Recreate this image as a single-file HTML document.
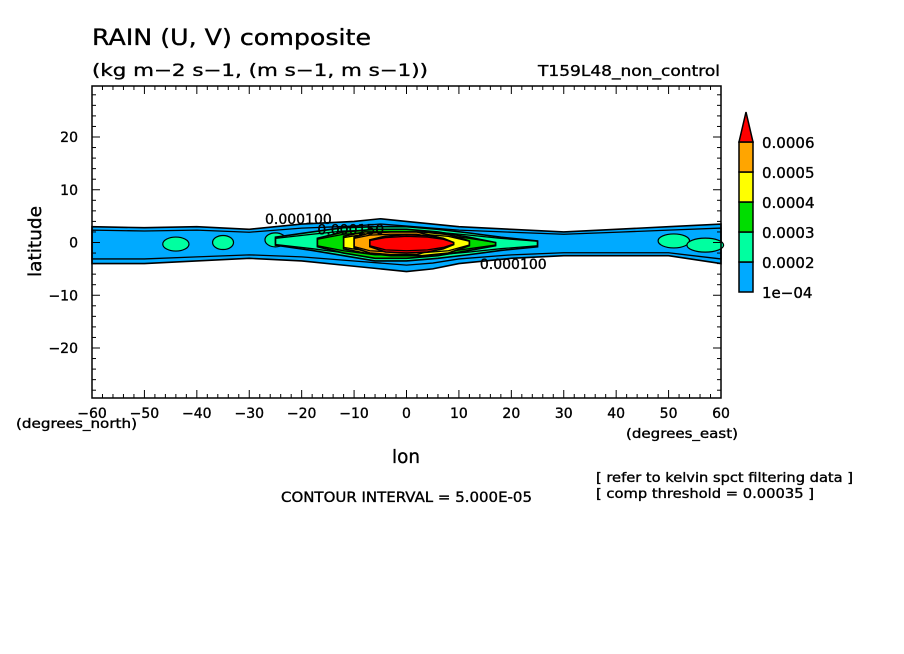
<!DOCTYPE html>
<html><head><meta charset="utf-8"><style>
body{margin:0;background:#fff}
svg{display:block;font-family:"DejaVu Sans","Liberation Sans",sans-serif}
text{stroke:#000;stroke-width:0.35}
</style></head><body>
<svg id="s" width="904" height="654" viewBox="0 0 904 654">
<text x="92" y="45" font-size="22" textLength="279" lengthAdjust="spacingAndGlyphs">RAIN (U, V) composite</text>
<text x="92" y="76" font-size="17" textLength="336" lengthAdjust="spacingAndGlyphs">(kg m−2 s−1, (m s−1, m s−1))</text>
<text x="538" y="76" font-size="15" textLength="182" lengthAdjust="spacingAndGlyphs">T159L48_non_control</text>
<g id="plot"></g>
<text x="392" y="463" font-size="19" textLength="28" lengthAdjust="spacingAndGlyphs">lon</text>
<text x="41" y="277" font-size="18" textLength="71" lengthAdjust="spacingAndGlyphs" transform="rotate(-90 41 277)">latitude</text>
<text x="16" y="428" font-size="13" textLength="121" lengthAdjust="spacingAndGlyphs">(degrees_north)</text>
<text x="626" y="438" font-size="13" textLength="112" lengthAdjust="spacingAndGlyphs">(degrees_east)</text>
<text x="281" y="502" font-size="14" textLength="251" lengthAdjust="spacingAndGlyphs">CONTOUR INTERVAL = 5.000E-05</text>
<text x="596" y="482" font-size="13" textLength="257" lengthAdjust="spacingAndGlyphs">[ refer to kelvin spct filtering data ]</text>
<text x="596" y="498" font-size="13" textLength="218" lengthAdjust="spacingAndGlyphs">[ comp threshold = 0.00035 ]</text>
<g id="cbar"></g>
</svg>
<script>
const xTicks=[-60,-50,-40,-30,-20,-10,0,10,20,30,40,50,60];
const yTicks=[20,10,0,-10,-20];
const levels=["1e-04","0.0002","0.0003","0.0004","0.0005","0.0006"];
const colors=["#00aaff","#00ffa0","#00dd00","#ffff00","#ffa500","#ff0000"];
const bLon=[-60,-50,-40,-30,-20,-10,-5,0,5,10,20,30,40,50,60];
const bN=[3,2.8,3,2.5,3.5,4,4.5,4,3.5,3,2.5,2,2.5,3,3.5];
const bS=[-4,-4,-3.5,-3,-3.5,-4.5,-5,-5.5,-5,-4,-3,-2.5,-2.5,-2.5,-4];
const tLon=[-25,-18,-12,-6,0,6,12,18,25];
const tN=[1,2,2.8,3,3,2.5,1.8,1,0.3];
const tS=[-0.5,-1.5,-2.5,-3.5,-3.5,-3,-2.3,-1.5,-0.8];
const gLon=[-17,-12,-6,0,6,12,17];
const gN=[0.8,2,2.5,2.5,2,1,0];
const gS=[-0.8,-2,-3,-3,-2.5,-1.5,-0.6];
const yLon=[-12,-8,-3,3,8,12];
const yN=[1.2,2,2,2,1.5,0.3];
const yS=[-1.2,-2,-2.5,-2.5,-2,-0.6];
const oLon=[-10,-7,-3,2,6];
const oN=[1,1.8,2,2,1];
const oS=[-1,-2,-2.3,-2.3,-1];
const rLon=[-7,-4,0,4,7,9];
const rN=[0.5,1.2,1.5,1.3,0.8,0];
const rS=[-0.8,-1.8,-2,-1.8,-1.2,-0.4];
const patchLon=[-44,-35,-25,51,57];
const patchLat=[-0.3,0,0.5,0.3,-0.5];
const patchW=[2.5,2,2,3,3.5];

const NS="http://www.w3.org/2000/svg";
const X0=92,X1=721,Y0=86,Y1=398;
const sx=v=>X0+(v+60)/120*(X1-X0);
const sy=v=>242.5-v*5.275;
const plot=document.getElementById('plot');
function mk(t,a,p){const e=document.createElementNS(NS,t);for(const k in a)e.setAttribute(k,a[k]);(p||plot).appendChild(e);return e;}
function pathOf(lon,n,s,k){
  let d='M'+lon.map((v,i)=>sx(v)+','+sy(n[i]*k)).join('L');
  for(let i=lon.length-1;i>=0;i--)d+='L'+sx(lon[i])+','+sy(s[i]*k);
  return d+'Z';
}
function band(lon,n,s,c,name){
  const e=mk('path',{d:pathOf(lon,n,s,1),fill:c,stroke:'#000','stroke-width':1.6});
  
  
  const l=mk('path',{d:pathOf(lon,n,s,0.78),fill:'none',stroke:'#000','stroke-width':1.3});
  
  
}
band(bLon,bN,bS,colors[0],'contour-1e-04');
patchLon.forEach((v,i)=>{const e=mk('ellipse',{cx:sx(v),cy:sy(patchLat[i]),rx:patchW[i]*5.24,ry:7,fill:colors[1],stroke:'#000','stroke-width':1.2});
  
  });
band(tLon,tN,tS,colors[1],'contour-0.0002');
band(gLon,gN,gS,colors[2],'contour-0.0003');
band(yLon,yN,yS,colors[3],'contour-0.0004');
band(oLon,oN,oS,colors[4],'contour-0.0005');
band(rLon,rN,rS,colors[5],'contour-0.0006');
[[-27,3.5,'0.000100'],[-17,1.5,'0.000150'],[14,-5,'0.000100']].forEach((l,i)=>{
  const e=mk('text',{x:sx(l[0]),y:sy(l[1]),'font-size':14});e.textContent=l[2];
  
  });
const fr=mk('rect',{x:X0,y:Y0,width:X1-X0,height:Y1-Y0,fill:'none',stroke:'#000','stroke-width':1.5});


for(let v=-60;v<=60;v+=2){const L=v%10===0?8:4;
  mk('line',{x1:sx(v),x2:sx(v),y1:Y1,y2:Y1-L,stroke:'#000'});
  mk('line',{x1:sx(v),x2:sx(v),y1:Y0,y2:Y0+L,stroke:'#000'});}
for(let v=-28;v<=28;v+=2){const L=v%10===0?8:4;
  mk('line',{x1:X0,x2:X0+L,y1:sy(v),y2:sy(v),stroke:'#000'});
  mk('line',{x1:X1,x2:X1-L,y1:sy(v),y2:sy(v),stroke:'#000'});}
xTicks.forEach(v=>{const e=mk('text',{x:sx(v),y:418,'font-size':14,'text-anchor':'middle'});e.textContent=String(v).replace('-','−');
  
  });
yTicks.forEach(v=>{const e=mk('text',{x:78,y:sy(v)+5,'font-size':14,'text-anchor':'end'});e.textContent=String(v).replace('-','−');
  
  });
const cb=document.getElementById('cbar');
const cx=739,cw=14,seg=30,cbot=292;
levels.forEach((l,i)=>{
  const top=cbot-(i+1)*seg;
  let e;
  if(i<5) e=mk('rect',{x:cx,y:top,width:cw,height:seg,fill:colors[i],stroke:'#000','stroke-width':1.5},cb);
  else e=mk('polygon',{points:`${cx},${cbot-5*seg} ${cx+cw},${cbot-5*seg} ${cx+cw/2},${cbot-5*seg-30}`,fill:colors[i],stroke:'#000','stroke-width':1.5},cb);
  
  
  const t=mk('text',{x:762,y:cbot-i*seg+6,'font-size':15},cb);t.textContent=l.replace('-','−');
  
  
});
</script>
</body></html>
